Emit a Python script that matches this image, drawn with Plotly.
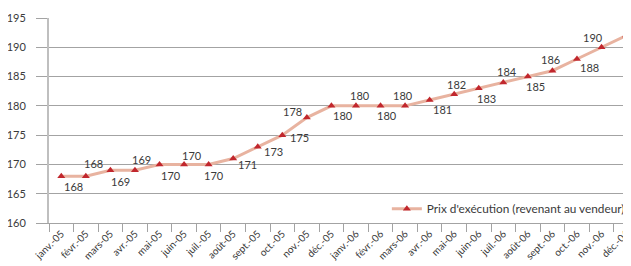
import plotly.graph_objects as go

months = ["janv.-05", "févr.-05", "mars-05", "avr.-05", "mai-05", "juin-05", "juil.-05",
          "août-05", "sept.-05", "oct.-05", "nov.-05", "déc.-05",
          "janv.-06", "févr.-06", "mars-06", "avr.-06", "mai-06", "juin-06", "juil.-06",
          "août-06", "sept.-06", "oct.-06", "nov.-06", "déc.-06"]
prix = [168, 168, 169, 169, 170, 170, 170, 171, 173, 175, 178, 180,
        180, 180, 180, 181, 182, 183, 184, 185, 186, 188, 190, 192]
y_ticks = [160, 165, 170, 175, 180, 185, 190, 195]
series_name = "Prix d'exécution (revenant au vendeur)"

# label offsets (pixels) relative to each marker - styling only
label_dx = [12, 8, 10, 7, 11, 8, 5, 14, 16, 17, -14, 12,
            4, 6, -2, 13, 2, 8, 4, 8, -2, 13, -9, 6]
label_dy = [10, -13, 11, -11, 11, -9, 11, 6, 5, 2, -6, 10,
            -10, 10, -10, 9, -10, 10, -11, 10, -11, 8, -10, 12]

FONT = "Lato, 'Open Sans', sans-serif"
TXT = "#3a3a3a"
GRID = "#a3a3a3"

fig = go.Figure()
fig.add_trace(go.Scatter(
    x=months, y=prix, mode="lines+markers", name=series_name,
    line=dict(color="#e8b3a0", width=3),
    marker=dict(symbol="triangle-up", size=7, color="#c1272d"),
    cliponaxis=False,
))

for m, v, dx, dy in zip(months, prix, label_dx, label_dy):
    fig.add_annotation(x=m, y=v, text=str(v), showarrow=False,
                       xshift=dx, yshift=-dy,
                       font=dict(family=FONT, size=11, color=TXT))

# page body has an 8px default margin: figure sized to end at the window edge
fig.update_layout(
    width=623, height=258,
    margin=dict(l=41, r=0, t=10, b=43, autoexpand=False),
    paper_bgcolor="white", plot_bgcolor="white",
    font=dict(family=FONT, size=11, color=TXT),
    showlegend=True,
    legend=dict(x=0.5805, xanchor="left", y=0.07, yanchor="middle",
                bgcolor="rgba(0,0,0,0)", font=dict(family=FONT, size=11.8, color=TXT),
                itemwidth=30),
)
fig.update_xaxes(
    type="category", range=[-0.5, 23.2], tickson="boundaries",
    ticks="outside", ticklen=8, tickcolor=GRID, tickwidth=1,
    tickangle=-45, tickfont=dict(family=FONT, size=10, color=TXT),
    showgrid=False, showline=True, linecolor=GRID, linewidth=1,
    zeroline=False, automargin=False,
)
fig.update_yaxes(
    range=[160, 195], tickvals=y_ticks, ticks="outside", ticklen=11,
    tickcolor=GRID, tickwidth=1, ticklabelstandoff=8,
    tickfont=dict(family=FONT, size=11, color=TXT),
    showgrid=True, gridcolor=GRID, gridwidth=1,
    showline=True, linecolor="#bfbfbf", linewidth=2, zeroline=False,
    automargin=False,
)

fig.write_html("out.html")
